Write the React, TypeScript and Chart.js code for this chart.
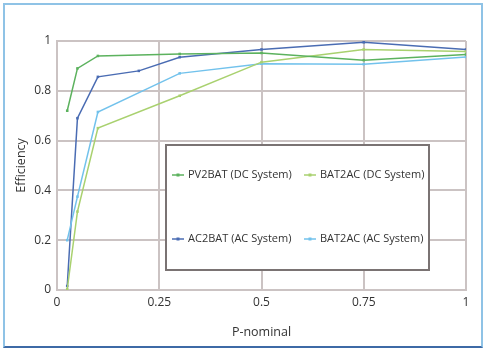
import React, { useEffect, useRef } from "react";
import { Chart, registerables } from "chart.js";

Chart.register(...registerables);

const xPV2BAT = [0.025, 0.05, 0.1, 0.3, 0.5, 0.75, 1];
const yPV2BAT = [0.72, 0.89, 0.94, 0.948, 0.952, 0.923, 0.946];

const xAC2BAT = [0.025, 0.05, 0.1, 0.2, 0.3, 0.5, 0.75, 1];
const yAC2BAT = [0.016, 0.69, 0.856, 0.88, 0.935, 0.966, 0.995, 0.966];

const xBAT2AC_DC = [0.025, 0.05, 0.1, 0.3, 0.5, 0.75, 1];
const yBAT2AC_DC = [0.003, 0.315, 0.65, 0.78, 0.915, 0.966, 0.958];

const xBAT2AC_AC = [0.025, 0.05, 0.1, 0.3, 0.5, 0.75, 1];
const yBAT2AC_AC = [0.2, 0.375, 0.715, 0.87, 0.909, 0.907, 0.936];

const seriesNames = [
  "PV2BAT (DC System)",
  "AC2BAT (AC System)",
  "BAT2AC (DC System)",
  "BAT2AC (AC System)",
];
const seriesColors = ["#5cb25e", "#4a6cb3", "#a9d16f", "#72c2ec"];

const xTicks = [0, 0.25, 0.5, 0.75, 1];
const xTickLabels = ["0", "0.25", "0.5", "0.75", "1"];
const yTickLabels = ["0", "0.2", "0.4", "0.6", "0.8", "1"];

const FONT = "'Open Sans', 'DejaVu Sans', sans-serif";
const TEXT = "#333333";
const GRID = "#cbc3c3";

const zip = (xs: number[], ys: number[]) => xs.map((x, i) => ({ x, y: ys[i] }));

const legendPlugin = {
  id: "boxLegend",
  beforeDatasetsDraw(chart: any) {
    const ctx = chart.ctx;
    ctx.save();
    const bx = 166, by = 145, bw = 263, bh = 125;
    ctx.fillStyle = "#ffffff";
    ctx.fillRect(bx, by, bw, bh);
    ctx.strokeStyle = "#7a7373";
    ctx.lineWidth = 2;
    ctx.strokeRect(bx, by, bw, bh);
    const items = [
      { i: 0, x: 172, y: 175 },
      { i: 2, x: 304, y: 175 },
      { i: 1, x: 172, y: 239 },
      { i: 3, x: 304, y: 239 },
    ];
    ctx.font = `11px ${FONT}`;
    ctx.textBaseline = "middle";
    ctx.textAlign = "left";
    for (const it of items) {
      const c = seriesColors[it.i];
      ctx.strokeStyle = c;
      ctx.lineWidth = 1.5;
      ctx.beginPath();
      ctx.moveTo(it.x, it.y);
      ctx.lineTo(it.x + 12, it.y);
      ctx.stroke();
      ctx.fillStyle = c;
      ctx.fillRect(it.x + 4.5, it.y - 1.5, 3, 3);
      ctx.fillStyle = TEXT;
      ctx.fillText(seriesNames[it.i], it.x + 16, it.y);
    }
    ctx.restore();
  },
};

export default function App() {
  const ref = useRef<HTMLCanvasElement | null>(null);
  useEffect(() => {
    if (!ref.current) return;
    const mk = (i: number, xs: number[], ys: number[]) => ({
      label: seriesNames[i],
      data: zip(xs, ys),
      borderColor: seriesColors[i],
      backgroundColor: seriesColors[i],
      borderWidth: 1.5,
      pointStyle: "rect" as const,
      pointRadius: 1.8,
      pointBorderWidth: 0,
      tension: 0,
      fill: false,
    });
    const chart = new Chart(ref.current, {
      type: "line",
      data: {
        datasets: [
          mk(0, xPV2BAT, yPV2BAT),
          mk(2, xBAT2AC_DC, yBAT2AC_DC),
          mk(3, xBAT2AC_AC, yBAT2AC_AC),
          mk(1, xAC2BAT, yAC2BAT),
        ],
      },
      options: {
        animation: false,
        responsive: false,
        devicePixelRatio: 1,
        layout: { padding: { top: 41, right: 21, bottom: 0, left: 0 } },
        plugins: { legend: { display: false }, tooltip: { enabled: false } },
        scales: {
          x: {
            type: "linear",
            min: 0,
            max: 1,
            afterFit: (s: any) => { s.height = 61; },
            afterBuildTicks: (s: any) => { s.ticks = xTicks.map((v) => ({ value: v })); },
            ticks: {
              padding: 5,
              color: TEXT,
              font: { family: FONT, size: 12 },
              callback: (v: any) => xTickLabels[xTicks.indexOf(Number(v))] ?? "",
              maxRotation: 0,
            },
            grid: { color: GRID, lineWidth: 2, drawTicks: false },
            border: { color: GRID, width: 2 },
            title: {
              display: true,
              text: "P-nominal",
              color: TEXT,
              font: { family: FONT, size: 12.5 },
              padding: { top: 0, bottom: 11 },
            },
          },
          y: {
            min: 0,
            max: 1,
            afterFit: (s: any) => { s.width = 57; },
            ticks: {
              stepSize: 0.2,
              padding: 6,
              color: TEXT,
              font: { family: FONT, size: 12 },
              callback: (v: any, i: number) => yTickLabels[i] ?? "",
            },
            grid: { color: GRID, lineWidth: 2, drawTicks: false },
            border: { color: GRID, width: 2 },
            title: {
              display: true,
              text: "Efficiency",
              color: TEXT,
              font: { family: FONT, size: 12.5 },
              padding: { top: 14, bottom: 0 },
            },
          },
        },
      },
      plugins: [legendPlugin],
    });
    return () => chart.destroy();
  }, []);
  return (
    <div style={{ position: "fixed", left: 0, top: 0, width: 487, height: 351, background: "#fff" }}>
      <canvas ref={ref} width={487} height={351} style={{ position: "absolute", left: 0, top: 0 }} />
      <div
        style={{
          position: "absolute",
          left: 3,
          top: 3,
          width: 476,
          height: 341,
          borderLeft: "2px solid #8fc3e6",
          borderTop: "2px solid #8fc3e6",
          borderRight: "2px solid #8fc3e6",
          borderBottom: "2px solid #3d6aa6",
          pointerEvents: "none",
        }}
      />
    </div>
  );
}
